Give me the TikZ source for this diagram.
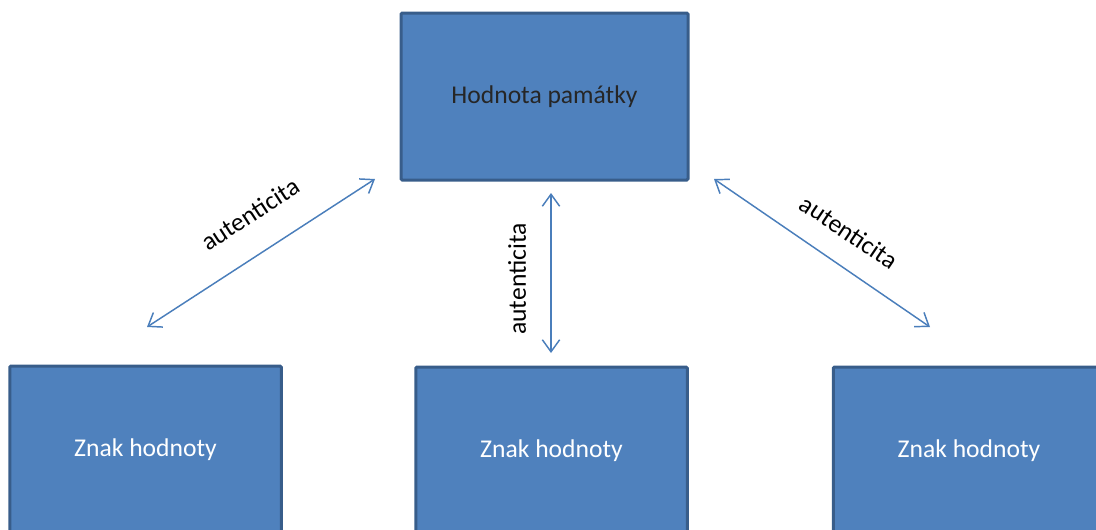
\documentclass[tikz,border=0pt]{standalone}
\usepackage{fontspec}
\setmainfont{Carlito}
\usetikzlibrary{arrows.meta}
\definecolor{boxfill}{HTML}{4F81BD}
\definecolor{boxline}{HTML}{385D8A}
\definecolor{arrowcol}{HTML}{4A7EBB}
\tikzset{
  box/.style={draw=boxline, line width=2.25pt, fill=boxfill, rounded corners=1pt,
    minimum width=271.5pt*0.75, minimum height=167*0.75pt, inner sep=0pt,
    font=\fontsize{19.2}{23}\selectfont},
  link/.style={draw=arrowcol, line width=1.1pt, {Straight Barb[length=9pt,width=13pt]}-{Straight Barb[length=9pt,width=13pt]}},
  lab/.style={font=\fontsize{19.2}{23}\selectfont, text=black, inner sep=0pt}
}
\begin{document}
\begin{tikzpicture}[x=0.75pt,y=-0.75pt]
\useasboundingbox (0,0) rectangle (1096,529);
\clip (0,0) rectangle (1096,529);
\node[box, minimum width=287*0.75pt, text=black!85] (top) at (544.5,96.5) {Hodnota památky};
\node[box, text=white] (bl) at (145.5,449.5) {Znak hodnoty};
\node[box, text=white] (bm) at (551.5,450.5) {Znak hodnoty};
\node[box, text=white] (br) at (969,450.5) {Znak hodnoty};
\coordinate (l1) at (147,327);
\coordinate (l2) at (375,179);
\coordinate (m1) at (551,193);
\coordinate (m2) at (551,353);
\coordinate (r1) at (714,179);
\coordinate (r2) at (930,327);
\draw[link] (l1) -- (l2);
\draw[link] (m1) -- (m2);
\draw[link] (r1) -- (r2);
\node[lab, rotate=33] (tl) at (250,214) {autenticita};
\node[lab, rotate=90] (tm) at (517,279) {autenticita};
\node[lab, rotate=-34] (tr) at (849,232) {autenticita};
\end{tikzpicture}
\end{document}
